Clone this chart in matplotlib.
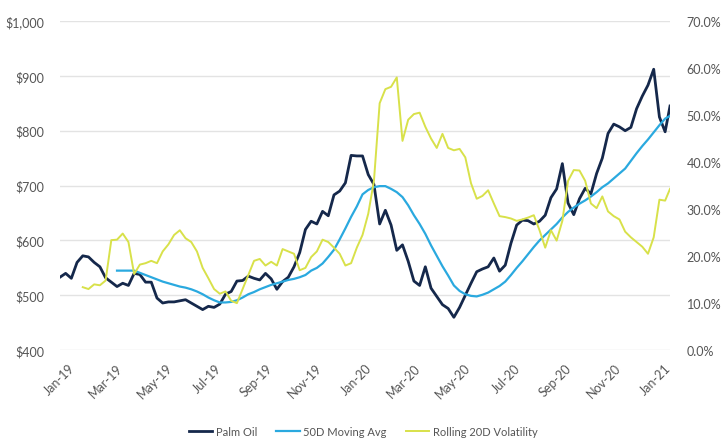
import pandas as pd
import matplotlib
matplotlib.use("Agg")
import matplotlib.pyplot as plt
import matplotlib.dates as mdates
import matplotlib.transforms as mtransforms
from matplotlib.ticker import FuncFormatter

plt.rcParams["font.family"] = ["Lato", "DejaVu Sans"]

# weekly readings, last point mid-January 2021
dates = list(pd.date_range("2019-01-01", periods=107, freq="7D")) + [pd.Timestamp("2021-01-18")]

palm_oil = [
    533, 540, 531, 560, 572, 570, 560, 552, 532, 524,
    516, 522, 518, 540, 538, 524, 524, 495, 486, 488,
    488, 490, 492, 486, 480, 474, 480, 478, 484, 502,
    507, 526, 527, 535, 531, 528, 540, 530, 511, 525,
    533, 552, 578, 620, 635, 630, 653, 645, 683, 690,
    705, 755, 754, 754, 720, 702, 630, 655, 628, 582,
    592, 562, 526, 518, 552, 513, 498, 483, 476, 460,
    478, 500, 522, 543, 548, 552, 568, 544, 555, 595,
    628, 637, 636, 630, 635, 646, 678, 694, 740, 668,
    647, 676, 695, 685, 722, 750, 795, 812, 807, 800,
    806, 840, 863, 883, 912, 825, 798, 845,
]

# 50D average starts mid-March 2019
moving_avg = [
    545, 545, 545, 545, 541, 537, 533, 529, 525, 522,
    519, 516, 514, 511, 507, 502, 496, 491, 487, 487,
    488, 491, 496, 502, 506, 511, 515, 519, 522, 525,
    528, 530, 533, 537, 545, 550, 558, 570, 583, 602,
    622, 643, 662, 684, 692, 697, 699, 699, 694, 688,
    679, 664, 646, 630, 612, 591, 572, 553, 536, 518,
    508, 502, 499, 498, 501, 505, 511, 517, 525, 537,
    550, 562, 575, 588, 600, 610, 620, 630, 642, 652,
    660, 667, 673, 680, 688, 697, 704, 713, 722, 731,
    745, 759, 772, 784, 797, 810, 822, 827,
]

# rolling 20D volatility (%) starts end of January 2019
volatility = [
    13.4, 13.0, 14.0, 13.8, 14.8, 23.4,
    23.5, 24.8, 23.0, 16.2, 18.2, 18.5, 19.0, 18.5, 21.0, 22.5,
    24.5, 25.5, 23.8, 23.0, 21.0, 17.5, 15.3, 13.0, 12.0, 12.5,
    10.5, 10.0, 13.0, 16.0, 19.0, 19.4, 18.0, 18.8, 18.0, 21.5,
    21.0, 20.5, 17.0, 17.5, 19.8, 21.0, 23.5, 23.0, 21.8, 20.5,
    18.0, 18.5, 21.8, 24.5, 29.0, 36.0, 52.5, 55.5, 56.0, 58.0,
    44.5, 49.0, 50.2, 50.5, 47.5, 45.0, 43.0, 46.0, 43.0, 42.5,
    42.8, 41.0, 35.5, 32.2, 32.8, 34.0, 31.2, 28.5, 28.3, 28.0,
    27.5, 27.8, 28.2, 28.7, 25.5, 21.8, 25.5, 23.3, 27.5, 36.0,
    38.3, 38.2, 36.0, 31.2, 30.2, 32.7, 29.5, 28.5, 27.8, 25.2,
    24.0, 23.0, 22.0, 20.5, 24.0, 32.0, 31.8, 34.3,
]

ma_dates = dates[len(dates) - len(moving_avg):]
vol_dates = dates[len(dates) - len(volatility):]

navy = "#15284b"
blue = "#2aa9df"
yellow = "#d8e14a"
grey_txt = "#555555"

fig, ax = plt.subplots(figsize=(7.22, 4.39), dpi=100)
fig.subplots_adjust(left=0.083, right=0.928, top=0.95, bottom=0.2)
ax2 = ax.twinx()

l1, = ax.plot(dates, palm_oil, color=navy, lw=2.0, label="Palm Oil")
l2, = ax.plot(ma_dates, moving_avg, color=blue, lw=1.6, label="50D Moving Avg")
l3, = ax2.plot(vol_dates, volatility, color=yellow, lw=1.4, label="Rolling 20D Volatility")

ax.set_ylim(400, 1000)
ax.set_yticks(range(400, 1001, 100))
ax.yaxis.set_major_formatter(FuncFormatter(lambda v, p: "${:,.0f}".format(v)))
ax2.set_ylim(0, 70)
ax2.set_yticks(range(0, 71, 10))
ax2.yaxis.set_major_formatter(FuncFormatter(lambda v, p: "{:.1f}%".format(v)))

ax.set_xlim(pd.Timestamp("2019-01-01"), pd.Timestamp("2021-01-18"))
ax.xaxis.set_major_locator(mdates.MonthLocator(bymonth=[1, 3, 5, 7, 9, 11]))
ax.xaxis.set_major_formatter(mdates.DateFormatter("%b-%y"))

ax.grid(axis="y", color="#e3e3e3", lw=1)
ax.set_axisbelow(True)
for a in (ax, ax2):
    for s in a.spines.values():
        s.set_visible(False)
    a.tick_params(length=0, colors=grey_txt, labelsize=9)
ax.tick_params(axis="y", pad=11)
ax2.tick_params(axis="y", pad=12)
ax.tick_params(axis="x", pad=8)

# shift rotated date labels a little to the right, like the original
shift = mtransforms.ScaledTranslation(8 / 100, 0, fig.dpi_scale_trans)
for lab in ax.get_xticklabels():
    lab.set_rotation(45)
    lab.set_ha("right")
    lab.set_rotation_mode("anchor")
    lab.set_transform(lab.get_transform() + shift)

fig.legend(handles=[l1, l2, l3], loc="center", bbox_to_anchor=(0.503, 0.015),
           ncol=3, frameon=False, fontsize=8, handlelength=2.1,
           handletextpad=0.35, columnspacing=1.7, labelcolor=grey_txt)

plt.savefig("out.png", dpi=100)
